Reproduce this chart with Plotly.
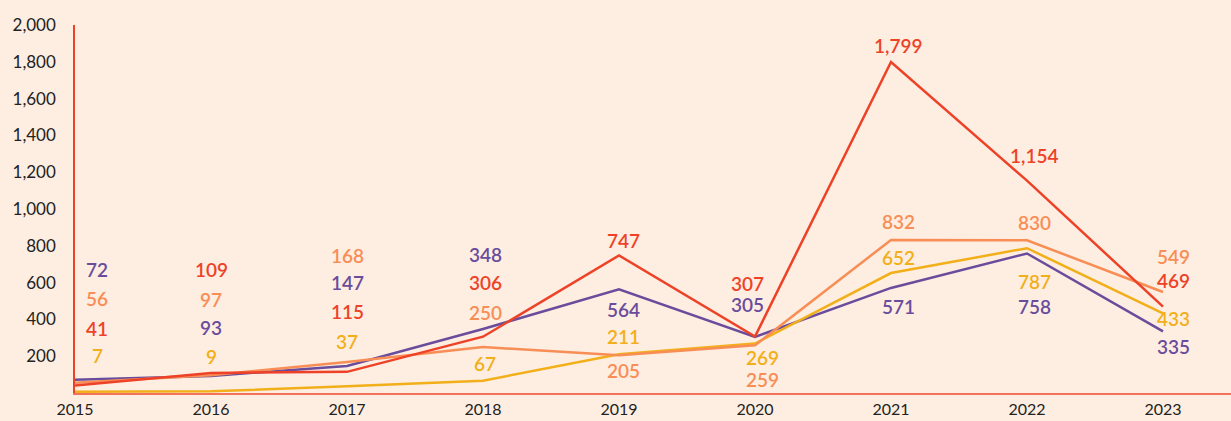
import plotly.graph_objects as go

years = [2015, 2016, 2017, 2018, 2019, 2020, 2021, 2022, 2023]
red_vals = [41, 109, 115, 306, 747, 307, 1799, 1154, 469]
orange_vals = [56, 97, 168, 250, 205, 259, 832, 830, 549]
yellow_vals = [7, 9, 37, 67, 211, 269, 652, 787, 433]
purple_vals = [72, 93, 147, 348, 564, 305, 571, 758, 335]
y_ticks = [200, 400, 600, 800, 1000, 1200, 1400, 1600, 1800, 2000]

# label placement (pixel offsets from each point; style only)
red_shift = [57, 103, 60, 54, 15, 53, 16, 25, 26]
orange_shift = [84, 76, 107, 35, -15, -34, 18, 18, 35]
yellow_shift = [36, 35, 45, 17, 18, -14, 16, -33, -5]
purple_shift = [110, 48, 83, 74, -20, 32, -19, -53, -15]
x_shift = [22, 0, 0, 2, 4, -8, 7, 7, 10]
x_shift_low2020 = 7

RED = "#EE4228"
ORANGE = "#F88D55"
YELLOW = "#F2AF1A"
PURPLE = "#6A4C9C"
BG = "#FDEEE1"

series = [
    ("purple", purple_vals, PURPLE, purple_shift),
    ("yellow", yellow_vals, YELLOW, yellow_shift),
    ("orange", orange_vals, ORANGE, orange_shift),
    ("red", red_vals, RED, red_shift),
]

fig = go.Figure()
annotations = []
for name, vals, col, shifts in series:
    fig.add_trace(go.Scatter(x=years, y=vals, mode="lines", name=name,
                             line=dict(color=col, width=2.5), hoverinfo="x+y"))
    for i, (x, v) in enumerate(zip(years, vals)):
        xs = x_shift[i]
        if x == 2020 and name in ("yellow", "orange"):
            xs = x_shift_low2020
        annotations.append(dict(
            x=x, y=v, xref="x", yref="y", text=f"{v:,}", showarrow=False,
            xshift=xs, yshift=shifts[i], xanchor="center", yanchor="middle",
            font=dict(family="Lato", size=19, color=col, weight=600)))

fig.update_layout(
    width=1231, height=421,
    margin=dict(l=75, r=0, t=25, b=28, autoexpand=False),
    paper_bgcolor=BG, plot_bgcolor=BG,
    showlegend=False,
    annotations=annotations,
    xaxis=dict(range=[2015, 2023.5], tickvals=years, ticktext=[str(y) for y in years],
               automargin=False,
               showgrid=False, zeroline=False, showline=True, linecolor="#F2735A",
               linewidth=2, ticks="outside", ticklen=1, tickcolor="rgba(0,0,0,0)",
               tickfont=dict(family="Lato", size=16, color="#222222")),
    yaxis=dict(range=[0, 2000], tickvals=y_ticks, tickformat=",",
               automargin=False,
               showgrid=False, zeroline=False, showline=True, linecolor=RED,
               linewidth=1.5, ticks="outside", ticklen=14, tickcolor="rgba(0,0,0,0)",
               tickfont=dict(family="Lato", size=17, color="#222222")),
)

fig.write_html("out.html", config={"displayModeBar": False},
               post_script="document.body.style.margin='0';document.body.style.overflow='hidden';")
